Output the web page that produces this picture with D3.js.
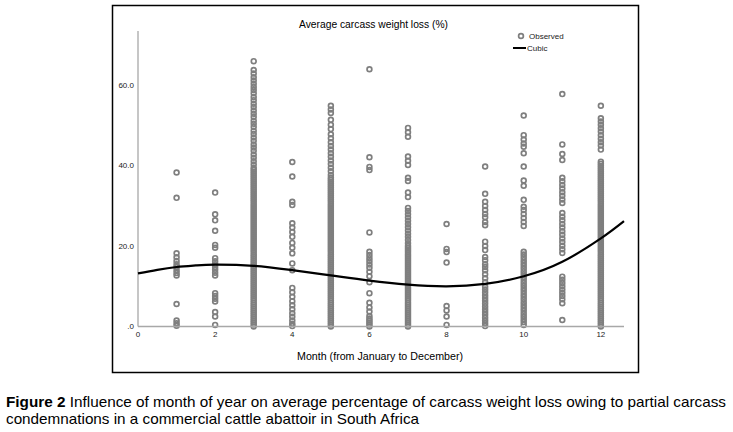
<!DOCTYPE html>
<html>
<head>
<meta charset="utf-8">
<script src="https://cdn.jsdelivr.net/npm/d3@7"></script>
<style>
  body { margin: 0; background: #fff; }
  svg { display: block; font-family: "Liberation Sans", Arial, sans-serif; }
</style>
</head>
<body>
<svg id="chart" width="733" height="432"></svg>
<script>
// observed average carcass weight loss (%) per month
const jan = [38.3, 32.0, 18.2, 17.2, 16.3, 15.5, 14.8, 14.0, 13.3, 12.7, 5.6, 1.5, 0.8, 0.2];
const feb = [33.3, 27.9, 26.4, 23.8, 20.3, 19.6, 17.0, 16.2, 15.5, 14.8, 14.1, 13.4, 12.7, 8.3, 7.6, 6.9, 6.2, 3.6, 2.5, 0.4];
const mar = [66.0, 63.8, 62.9, 62.0, 61.2, 60.4, 59.6, 58.8, 58.0, 57.1, 56.3, 55.4, 54.6, 53.7, 52.9, 52.1, 51.2, 50.4, 49.6, 48.7, 47.9, 47.0, 46.2, 45.3, 44.5, 43.7, 42.8, 42.0, 41.1, 40.3,
  39.5, 39, 38.5, 38, 37.5, 37, 36.5, 36, 35.5, 35, 34.5, 34, 33.5, 33, 32.5, 32, 31.5, 31, 30.5, 30, 29.5, 29, 28.5, 28, 27.5, 27, 26.5, 26, 25.5, 25, 24.5, 24, 23.5, 23, 22.5, 22, 21.5, 21, 20.5, 20,
  19.5, 19, 18.5, 18, 17.5, 17, 16.5, 16, 15.5, 15, 14.5, 14, 13.5, 13, 12.5, 12, 11.5, 11, 10.5, 10, 9.5, 9, 8.5, 8, 7.5, 7, 6.5, 6, 5.5, 5, 4.5, 4, 3.5, 3, 2.5, 2, 1.5, 1, 0.5, 0];
const apr = [40.9, 37.3, 31.0, 30.2, 25.7, 24.6, 23.5, 22.3, 20.8, 19.6, 18.2, 15.7, 14.0, 9.6, 8.5, 7.4, 6.3, 5.3, 4.3, 3.3, 2.4, 1.5, 0.7, 0.1];
const may = [54.9, 54.0, 53.1, 51.4, 50.2, 49.1, 47.8, 46.8, 45.8, 44.9, 44.0, 43.1, 42.2, 41.3, 40.4, 39.5, 38.6, 37.7,
  37, 36.5, 36, 35.5, 35, 34.5, 34, 33.5, 33, 32.5, 32, 31.5, 31, 30.5, 30, 29.5, 29, 28.5, 28, 27.5, 27, 26.5, 26, 25.5, 25, 24.5, 24, 23.5, 23, 22.5, 22, 21.5, 21, 20.5, 20,
  19.5, 19, 18.5, 18, 17.5, 17, 16.5, 16, 15.5, 15, 14.5, 14, 13.5, 13, 12.5, 12, 11.5, 11, 10.5, 10, 9.5, 9, 8.5, 8, 7.5, 7, 6.5, 6, 5.5, 5, 4.5, 4, 3.5, 3, 2.5, 2, 1.5, 1, 0.5, 0];
const jun = [64.0, 42.1, 39.7, 38.9, 23.4, 18.6, 17.8, 17.0, 16.2, 15.4, 14.6, 13.6, 12.5, 11.0, 8.3, 5.9, 4.7, 3.7, 2.6, 2.0, 1.5, 1.0, 0.5, 0.0];
const jul = [49.4, 48.3, 47.2, 42.3, 41.2, 40.2, 37.0, 36.2, 33.3, 32.2, 29.5, 28.7, 27.9, 27.1, 26.3, 25.5, 24.7, 23.9, 23.1, 22.3, 21.5, 20.7, 20.0,
  19.5, 19, 18.5, 18, 17.5, 17, 16.5, 16, 15.5, 15, 14.5, 14, 13.5, 13, 12.5, 12, 11.5, 11, 10.5, 10, 9.5, 9, 8.5, 8, 7.5, 7, 6.5, 6, 5.5, 5, 4.5, 4, 3.5, 3, 2.5, 2, 1.5, 1, 0.5, 0];
const aug = [25.5, 19.3, 18.5, 15.9, 5.1, 4.0, 2.5, 0.4];
const sep = [39.8, 33.0, 31.0, 30.0, 29.0, 28.0, 27.2, 26.0, 25.2, 21.1, 20.0, 19.0, 17.3, 16.5, 15.5, 14.8, 14.0, 13.0, 12.0, 11.0, 9.9, 9.2, 8.5, 7.8, 7.1, 6.4, 5.7, 5.0, 4.3, 3.6, 2.9, 2.2, 1.5, 0.8, 0.1];
const oct = [52.5, 47.6, 46.5, 45.5, 44.7, 43.1, 39.8, 36.3, 35.0, 31.5, 29.8, 29.0, 28.0, 27.0, 26.0, 25.0, 18.6, 17.9, 17.2, 16.5, 15.8, 15.1, 14.4, 13.7, 13.0, 12.3, 11.6, 10.9, 10.2, 9.5, 8.8, 8.1, 7.4, 6.7, 6.0, 5.3, 4.6, 3.9, 3.2, 2.5, 1.8, 1.1, 0.4];
const nov = [57.8, 45.3, 42.9, 41.4, 37.0, 36.1, 35.2, 34.3, 33.4, 32.5, 31.6, 30.7, 28.2, 27.3, 26.4, 25.5, 24.6, 23.7, 22.8, 21.9, 21.0, 20.1, 19.2, 18.3, 12.4, 11.6, 10.8, 10.0, 9.2, 8.4, 7.6, 6.8, 5.8, 1.6];
const dec = [54.9, 51.8, 51.0, 50.2, 49.3, 48.5, 47.6, 46.7, 45.8, 45.0, 44.0,
  41, 40.5, 40, 39.5, 39, 38.5, 38, 37.5, 37, 36.5, 36, 35.5, 35, 34.5, 34, 33.5, 33, 32.5, 32, 31.5, 31, 30.5, 30, 29.5, 29, 28.5, 28, 27.5, 27, 26.5, 26, 25.5, 25, 24.5, 24, 23.5, 23, 22.5, 22, 21.5, 21, 20.5, 20,
  19.5, 19, 18.5, 18, 17.5, 17, 16.5, 16, 15.5, 15, 14.5, 14, 13.5, 13, 12.5, 12, 11.5, 11, 10.5, 10, 9.5, 9, 8.5, 8, 7.5, 7, 6.5, 6, 5.5, 5, 4.5, 4, 3.5, 3, 2.5, 2, 1.5, 1, 0.5, 0];

const months = [1, 2, 3, 4, 5, 6, 7, 8, 9, 10, 11, 12];
const monthValues = [jan, feb, mar, apr, may, jun, jul, aug, sep, oct, nov, dec];

// cubic fit
const cubicMonth = [0, 0.5, 1, 1.5, 2, 3, 4, 5, 6, 7, 8, 9, 10, 11, 12, 12.6];
const cubicValue = [13.2, 14.1, 14.8, 15.2, 15.4, 15.1, 14.0, 12.7, 11.4, 10.4, 10.0, 10.6, 12.5, 16.1, 21.9, 26.2];

const xTicks = [0, 2, 4, 6, 8, 10, 12];
const yTicks = [0, 20, 40, 60];
const yTickLabels = [".0", "20.0", "40.0", "60.0"];

const svg = d3.select("#chart");
const dotColour = "#7f7f7f";

// outer frame of the chart object
svg.append("rect")
    .attr("x", 112.5)
    .attr("y", 5.5)
    .attr("width", 526)
    .attr("height", 367)
    .attr("fill", "none")
    .attr("stroke", "#000")
    .attr("stroke-width", 1.5);

const x = d3.scaleLinear().domain([0, 12.6]).range([138, 624]);
const y = d3.scaleLinear().domain([0, 73.5]).range([326.5, 31]);

const points = [];
months.forEach((m, i) => monthValues[i].forEach(v => points.push({ month: m, value: v })));

svg.append("g")
    .selectAll(".obs")
    .data(points)
    .join("circle")
    .attr("class", "obs")
    .attr("cx", d => x(d.month))
    .attr("cy", d => y(d.value))
    .attr("r", 2.4)
    .attr("fill", "none")
    .attr("stroke", dotColour)
    .attr("stroke-width", 1.7);

// axes lines
svg.append("line")
    .attr("x1", x(0)).attr("x2", x(0))
    .attr("y1", y(0)).attr("y2", y(73.5))
    .attr("stroke", "#a8a8a8").attr("stroke-width", 1.3);
svg.append("line")
    .attr("x1", x(0)).attr("x2", x(12.6))
    .attr("y1", y(0)).attr("y2", y(0))
    .attr("stroke", "#a8a8a8").attr("stroke-width", 1.3);

const cubic = cubicMonth.map((m, i) => [m, cubicValue[i]]);
svg.append("path")
    .datum(cubic)
    .attr("fill", "none")
    .attr("stroke", "#000")
    .attr("stroke-width", 2.2)
    .attr("d", d3.line().x(d => x(d[0])).y(d => y(d[1])).curve(d3.curveNatural));

svg.selectAll(".ytick")
    .data(yTicks)
    .join("text")
    .attr("class", "ytick")
    .attr("x", x(0) - 4)
    .attr("y", d => y(d))
    .attr("dy", "0.35em")
    .attr("text-anchor", "end")
    .attr("font-size", 8)
    .attr("fill", "#222")
    .text((d, i) => yTickLabels[i]);

svg.selectAll(".xtick")
    .data(xTicks)
    .join("text")
    .attr("class", "xtick")
    .attr("x", d => x(d))
    .attr("y", y(0) + 10)
    .attr("text-anchor", "middle")
    .attr("font-size", 8)
    .attr("fill", "#222")
    .text(d => d);

svg.append("text")
    .attr("x", 299)
    .attr("y", 28)
    .attr("font-size", 11.5)
    .attr("textLength", 149)
    .attr("lengthAdjust", "spacingAndGlyphs")
    .text("Average carcass weight loss (%)");

svg.append("text")
    .attr("x", 297)
    .attr("y", 360)
    .attr("font-size", 11.5)
    .attr("textLength", 166)
    .attr("lengthAdjust", "spacingAndGlyphs")
    .text("Month (from January to December)");

// legend
svg.append("circle")
    .attr("cx", 521).attr("cy", 36)
    .attr("r", 2.4)
    .attr("fill", "none")
    .attr("stroke", dotColour)
    .attr("stroke-width", 1.7);
svg.append("text")
    .attr("x", 529).attr("y", 36)
    .attr("dy", "0.35em")
    .attr("font-size", 8)
    .attr("fill", "#222")
    .text("Observed");
svg.append("line")
    .attr("x1", 513).attr("x2", 526)
    .attr("y1", 48).attr("y2", 48)
    .attr("stroke", "#000").attr("stroke-width", 2);
svg.append("text")
    .attr("x", 527).attr("y", 48)
    .attr("dy", "0.35em")
    .attr("font-size", 8)
    .attr("fill", "#222")
    .text("Cubic");

// caption
const caption = svg.append("g").attr("font-size", 15);
const line1 = caption.append("text").attr("x", 6).attr("y", 407)
    .attr("textLength", 720).attr("lengthAdjust", "spacingAndGlyphs");
line1.append("tspan").attr("font-weight", "bold").text("Figure 2");
line1.append("tspan").text(" Influence of month of year on average percentage of carcass weight loss owing to partial carcass");
caption.append("text").attr("x", 6).attr("y", 424)
    .attr("textLength", 413).attr("lengthAdjust", "spacingAndGlyphs")
    .text("condemnations in a commercial cattle abattoir in South Africa");
</script>
</body>
</html>
